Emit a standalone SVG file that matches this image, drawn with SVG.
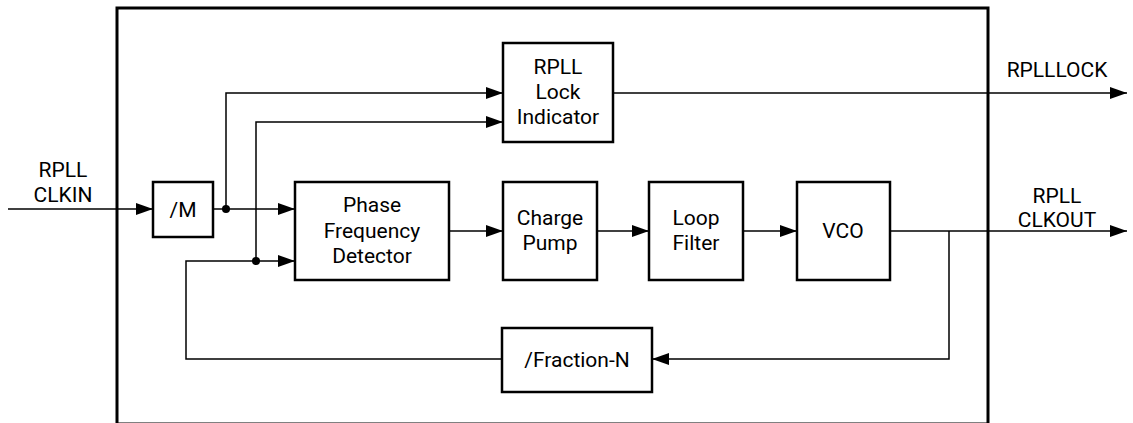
<svg xmlns="http://www.w3.org/2000/svg" width="1133" height="423" viewBox="0 0 1133 423">
<style>
.box{fill:#fff;stroke:#000;stroke-width:2.5}
.outer{fill:none;stroke:#000;stroke-width:3}
.ln{fill:none;stroke:#000;stroke-width:1.5}
.arr{marker-end:url(#ah)}
text{font-family:Roboto,"Liberation Sans",sans-serif;font-size:21px;fill:#000;text-anchor:middle}
</style>
<defs>
<marker id="ah" markerWidth="17" markerHeight="12" refX="17" refY="6" orient="auto" markerUnits="userSpaceOnUse">
<path d="M0,0 L17,6 L0,12 Z" fill="#000"/>
</marker>
</defs>
<rect class="outer" x="117" y="8" width="871" height="416"/>
<g id="connectors">
<path class="ln arr" d="M8,209 H153"/>
<path class="ln arr" d="M213,209 H295"/>
<path class="ln arr" d="M226,209 V93 H503"/>
<path class="ln arr" d="M256,261 V122 H503"/>
<path class="ln arr" d="M613,93 H1127"/>
<path class="ln arr" d="M449,231 H503"/>
<path class="ln arr" d="M597,231 H649"/>
<path class="ln arr" d="M743,231 H797"/>
<path class="ln arr" d="M890,231 H1127"/>
<path class="ln arr" d="M949,231 V359 H652"/>
<path class="ln arr" d="M502,359 H186 V261 H295"/>
<circle cx="226" cy="209" r="4"/>
<circle cx="256" cy="261" r="4"/>
</g>
<g id="clkin"><text x="63" y="177">RPLL</text><text x="63" y="202">CLKIN</text></g>
<g id="m"><rect class="box" x="153" y="182" width="60" height="55"/><text x="183" y="217">/M</text></g>
<g id="lock"><rect class="box" x="503" y="43" width="110" height="99"/><text x="558" y="74">RPLL</text><text x="558" y="99">Lock</text><text x="558" y="124">Indicator</text></g>
<g id="pfd"><rect class="box" x="295" y="182" width="154" height="98"/><text x="372" y="212">Phase</text><text x="372" y="238">Frequency</text><text x="372" y="263">Detector</text></g>
<g id="cp"><rect class="box" x="503" y="182" width="94" height="98"/><text x="550" y="225">Charge</text><text x="550" y="250">Pump</text></g>
<g id="lf"><rect class="box" x="649" y="182" width="94" height="98"/><text x="696" y="225">Loop</text><text x="696" y="250">Filter</text></g>
<g id="vco"><rect class="box" x="797" y="182" width="93" height="98"/><text x="843" y="238">VCO</text></g>
<g id="frac"><rect class="box" x="502" y="328" width="150" height="64"/><text x="577" y="367">/Fraction-N</text></g>
<g id="lockout"><text x="1057" y="77">RPLLLOCK</text></g>
<g id="clkout"><text x="1057" y="203">RPLL</text><text x="1057" y="227">CLKOUT</text></g>
</svg>
